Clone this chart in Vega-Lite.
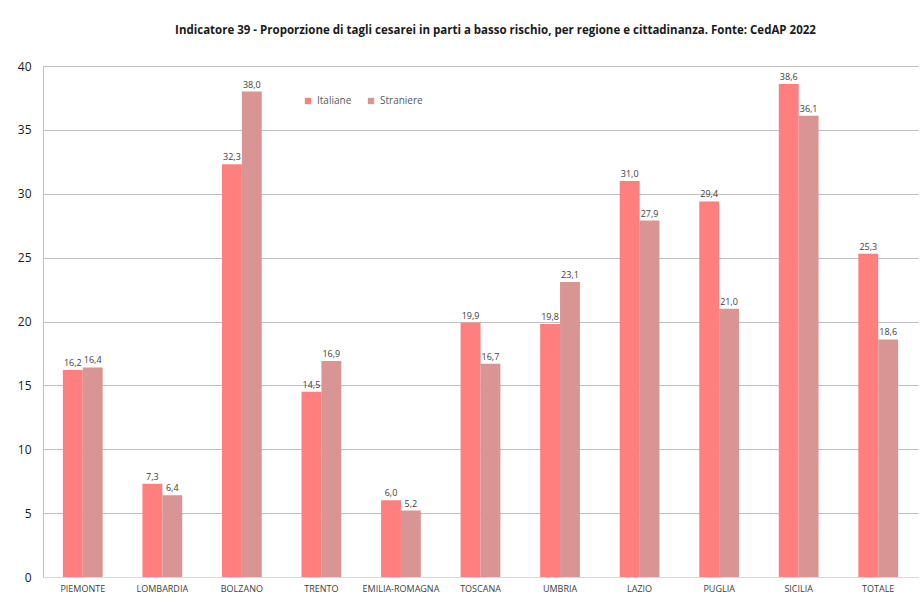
{
  "$schema": "https://vega.github.io/schema/vega-lite/v6.json",
  "width": 875,
  "height": 511,
  "autosize": {"type": "none"},
  "padding": {"left": 43, "top": 66, "right": 6, "bottom": 21},
  "background": "white",
  "title": {
    "text": "Indicatore 39 - Proporzione di tagli cesarei in parti a basso rischio, per regione e cittadinanza. Fonte: CedAP 2022",
    "font": "Open Sans",
    "fontSize": 11.5,
    "fontWeight": "bold",
    "color": "#1a1a1a",
    "anchor": "middle",
    "offset": 24,
    "dx": 15
  },
  "config": {
    "locale": {"number": {"decimal": ",", "thousands": ".", "grouping": [3], "currency": ["€", ""]}},
    "view": {"stroke": null},
    "font": "Open Sans"
  },
  "data": {
    "values": [
      {"regione": "PIEMONTE", "cittadinanza": "Italiane", "valore": 16.2},
      {"regione": "PIEMONTE", "cittadinanza": "Straniere", "valore": 16.4},
      {"regione": "LOMBARDIA", "cittadinanza": "Italiane", "valore": 7.3},
      {"regione": "LOMBARDIA", "cittadinanza": "Straniere", "valore": 6.4},
      {"regione": "BOLZANO", "cittadinanza": "Italiane", "valore": 32.3},
      {"regione": "BOLZANO", "cittadinanza": "Straniere", "valore": 38.0},
      {"regione": "TRENTO", "cittadinanza": "Italiane", "valore": 14.5},
      {"regione": "TRENTO", "cittadinanza": "Straniere", "valore": 16.9},
      {"regione": "EMILIA-ROMAGNA", "cittadinanza": "Italiane", "valore": 6.0},
      {"regione": "EMILIA-ROMAGNA", "cittadinanza": "Straniere", "valore": 5.2},
      {"regione": "TOSCANA", "cittadinanza": "Italiane", "valore": 19.9},
      {"regione": "TOSCANA", "cittadinanza": "Straniere", "valore": 16.7},
      {"regione": "UMBRIA", "cittadinanza": "Italiane", "valore": 19.8},
      {"regione": "UMBRIA", "cittadinanza": "Straniere", "valore": 23.1},
      {"regione": "LAZIO", "cittadinanza": "Italiane", "valore": 31.0},
      {"regione": "LAZIO", "cittadinanza": "Straniere", "valore": 27.9},
      {"regione": "PUGLIA", "cittadinanza": "Italiane", "valore": 29.4},
      {"regione": "PUGLIA", "cittadinanza": "Straniere", "valore": 21.0},
      {"regione": "SICILIA", "cittadinanza": "Italiane", "valore": 38.6},
      {"regione": "SICILIA", "cittadinanza": "Straniere", "valore": 36.1},
      {"regione": "TOTALE", "cittadinanza": "Italiane", "valore": 25.3},
      {"regione": "TOTALE", "cittadinanza": "Straniere", "valore": 18.6}
    ]
  },
  "encoding": {
    "x": {
      "field": "regione",
      "type": "nominal",
      "sort": null,
      "scale": {"paddingInner": 0.5, "paddingOuter": 0.25},
      "axis": {
        "title": null,
        "labelAngle": 0,
        "labelFontSize": 9,
        "labelColor": "#404040",
        "labelPadding": 7,
        "ticks": false,
        "domainColor": "#d9d9d9",
        "labelFont": "Open Sans"
      }
    },
    "xOffset": {"field": "cittadinanza", "type": "nominal", "scale": {"paddingInner": 0}},
    "y": {
      "field": "valore",
      "type": "quantitative",
      "scale": {"domain": [0, 40], "nice": false},
      "axis": {
        "title": null,
        "values": [0, 5, 10, 15, 20, 25, 30, 35, 40],
        "labelFontSize": 12,
        "labelColor": "#1a1a1a",
        "labelPadding": 12,
        "labelOverlap": false,
        "ticks": false,
        "domain": true,
        "domainColor": "#bfbfbf",
        "gridColor": "#bfbfbf",
        "format": "d"
      }
    }
  },
  "layer": [
    {
      "mark": {"type": "bar"},
      "encoding": {
        "color": {
          "field": "cittadinanza",
          "type": "nominal",
          "scale": {"domain": ["Italiane", "Straniere"], "range": ["#FF7F7F", "#D99594"]},
          "legend": {
            "title": null,
            "orient": "none",
            "legendX": 260,
            "legendY": 30,
            "direction": "horizontal",
            "symbolType": "square",
            "symbolSize": 40,
            "labelFontSize": 10,
            "labelColor": "#595959",
            "columnPadding": 14,
            "symbolOffset": 0
          }
        }
      }
    },
    {
      "mark": {"type": "text", "dy": -7, "fontSize": 9, "color": "#404040"},
      "encoding": {
        "text": {"field": "valore", "type": "quantitative", "format": ".1f"}
      }
    }
  ]
}
